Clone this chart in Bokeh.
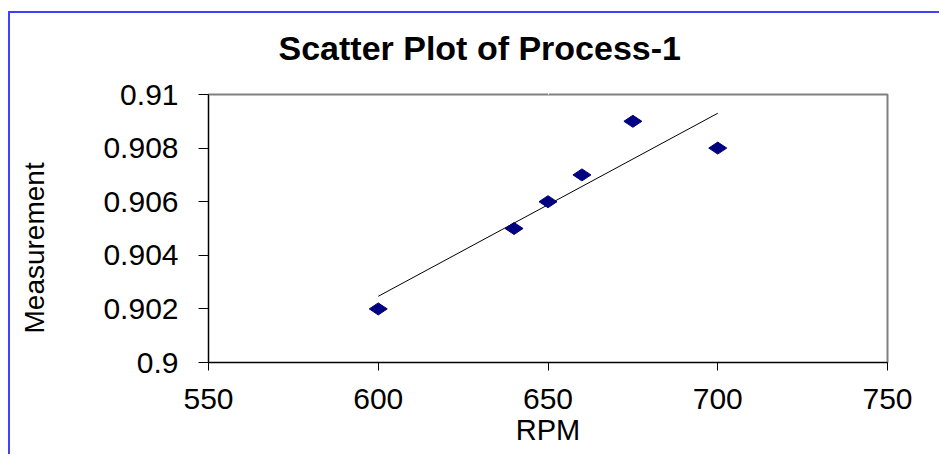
import numpy as np
from bokeh.plotting import figure
from bokeh.models import Range1d, FixedTicker, Title, LinearAxis
from bokeh.embed import file_html
from bokeh.resources import INLINE

# ---- data ----
rpm = [600, 640, 650, 660, 675, 700]
measurement = [0.902, 0.905, 0.906, 0.907, 0.909, 0.908]

# linear trend line
trend_rpm = [600, 700]
trend_measurement = [0.90247, 0.90930]

x_ticks = [550, 600, 650, 700, 750]
x_tick_labels = ["550", "600", "650", "700", "750"]
y_ticks = [0.900, 0.902, 0.904, 0.906, 0.908, 0.910]
y_tick_labels = ["0.9", "0.902", "0.904", "0.906", "0.908", "0.91"]

title_text = "Scatter Plot of Process-1"
x_label = "RPM"
y_label = "Measurement"

FONT = "Liberation Sans"

p = figure(width=931, height=443, output_backend="svg", toolbar_location=None,
           x_range=Range1d(550, 750), y_range=Range1d(0.900, 0.910),
           min_border_left=198, min_border_right=54,
           min_border_top=81, min_border_bottom=94)
p.styles = {"border-top": "2px solid #4040ff", "border-left": "2px solid #4040ff",
            "margin-top": "11px", "margin-left": "8px"}
p.background_fill_color = "white"
p.border_fill_color = "white"
p.outline_line_color = "#808080"
p.outline_line_width = 2
p.grid.visible = False

for ax, ticks, labels in ((p.xaxis[0], x_ticks, x_tick_labels), (p.yaxis[0], y_ticks, y_tick_labels)):
    ax.ticker = FixedTicker(ticks=ticks)
    ax.major_label_overrides = {t: l for t, l in zip(ticks, labels)}
    ax.minor_tick_line_color = None
    ax.major_tick_in = 0
    ax.axis_line_color = "black"
    ax.major_tick_line_color = "black"
    ax.major_label_text_font = FONT
    ax.major_label_text_font_size = "30px"
    ax.major_label_text_color = "black"

p.yaxis.major_tick_out = 10
p.yaxis.major_label_standoff = 20
p.xaxis.major_tick_out = 8
p.xaxis.major_label_standoff = 18

# trend line
p.line(trend_rpm, trend_measurement, line_color="black", line_width=1)
# points
p.scatter(rpm, measurement, marker="diamond", size=18, angle=np.pi / 2,
          fill_color="#000080", line_color="#000080")


def spacer(px, tick):
    # an invisible axis (one white tick, empty label) that only reserves space in a side panel
    return LinearAxis(ticker=FixedTicker(ticks=[tick]), major_label_overrides={tick: ""},
                      axis_line_color=None, major_tick_line_color="white",
                      minor_tick_line_color=None, major_tick_out=px, major_tick_in=0,
                      major_label_standoff=0, major_label_text_font_size="0px")


# title: sits above a spacer, shifted left of the frame centre
p.add_layout(spacer(28, 650), "above")
p.add_layout(Title(text=title_text, align="left", offset=70, standoff=0,
                   text_font=FONT, text_font_size="34px", text_font_style="bold",
                   text_color="black"), "above")
# y label, a little below the frame's middle
p.add_layout(spacer(51, 0.903), "left")
p.add_layout(Title(text=y_label, align="left", offset=29, standoff=0,
                   text_font=FONT, text_font_size="28px", text_font_style="normal",
                   text_color="black"), "left")
# x label
p.add_layout(Title(text=x_label, align="center", standoff=0,
                   text_font=FONT, text_font_size="29px", text_font_style="normal",
                   text_color="black"), "below")

open("out.html", "w").write(file_html(p, INLINE))
